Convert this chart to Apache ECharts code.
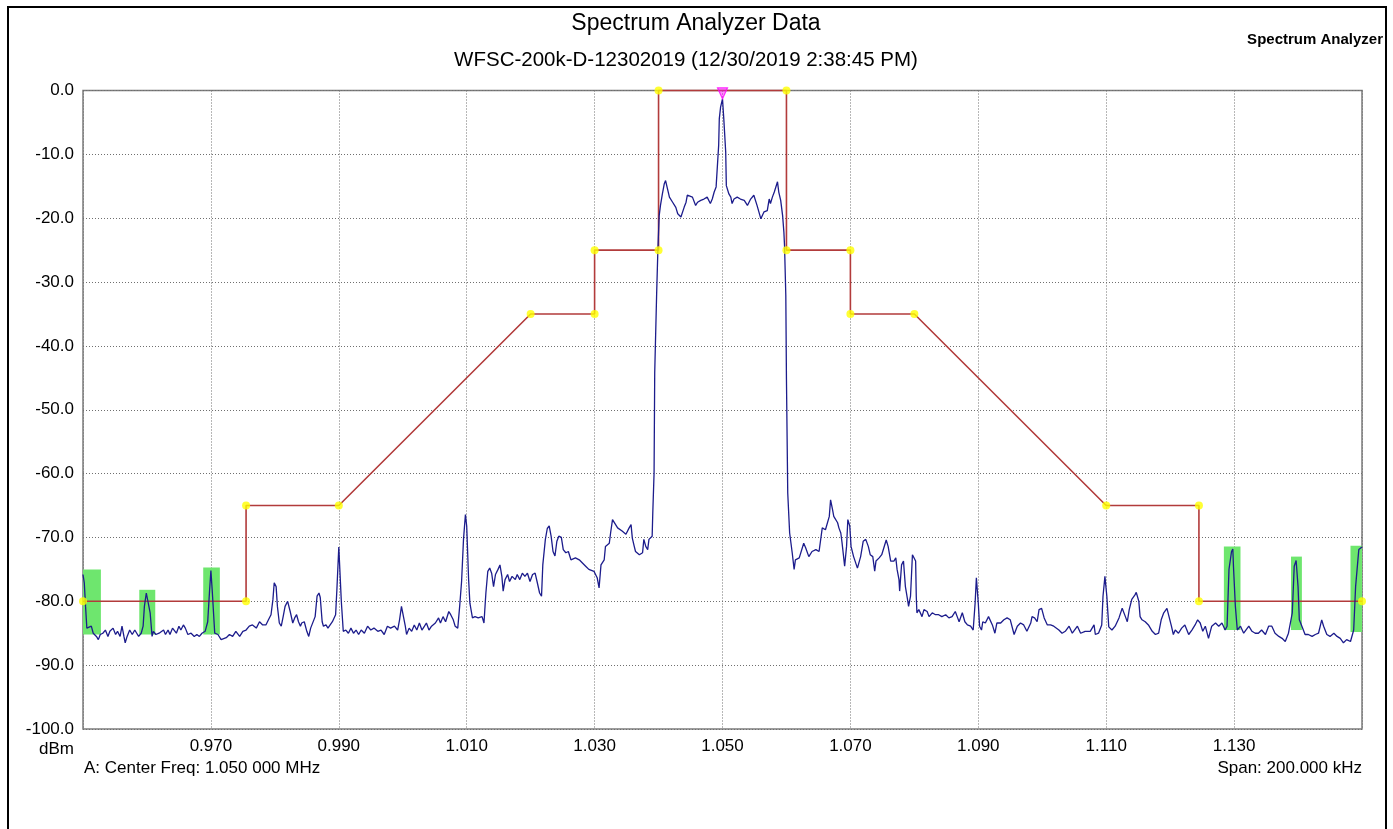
<!DOCTYPE html>
<html><head><meta charset="utf-8">
<script src="https://cdn.jsdelivr.net/npm/echarts@6/dist/echarts.min.js"></script>
<style>html,body{margin:0;padding:0;background:#fff}#c{width:1393px;height:829px}</style>
</head><body><div id="c"></div>
<script>
// ---------- data ----------
const START_MHZ = 0.950;           // left edge of the span
const SPAN_KHZ = 200;
const xTickLabels = ['', '0.970', '0.990', '1.010', '1.030', '1.050', '1.070', '1.090', '1.110', '1.130', ''];
const yTickLabels = ['0.0', '-10.0', '-20.0', '-30.0', '-40.0', '-50.0', '-60.0', '-70.0', '-80.0', '-90.0', '-100.0'];

// limit mask (MHz, dBm)
const maskMHz = [0.950, 0.9755, 0.9755, 0.990, 1.020, 1.030, 1.030, 1.040, 1.040, 1.060, 1.060, 1.070, 1.070, 1.080, 1.110, 1.1245, 1.1245, 1.150];
const maskDbm = [-80, -80, -65, -65, -35, -35, -25, -25, 0, 0, -25, -25, -35, -35, -65, -65, -80, -80];

// violation flags (green)
const flagStartMHz = [0.9500, 0.9588, 0.9688, 1.1284, 1.1389, 1.1482];
const flagEndMHz   = [0.9528, 0.9613, 0.9714, 1.1310, 1.1406, 1.1500];
const flagTopDbm   = [-75.0, -78.2, -74.7, -71.4, -73.0, -71.3];
const flagBotDbm   = [-85.2, -85.2, -85.2, -84.5, -84.5, -84.8];

// peak marker
const markerMHz = 1.050;
const markerDbm = -1.3;

// measured trace (MHz, dBm)
const traceLow = [
[0.9500,-75.8],[0.9502,-77.1],[0.9504,-80.8],[0.9506,-84.2],[0.9509,-84.5],[0.9513,-83.9],[0.9516,-85.0],[0.9521,-85.5],
[0.9524,-86.0],[0.9527,-85.2],[0.9531,-85.0],[0.9535,-84.5],[0.9539,-85.5],[0.9542,-84.7],[0.9547,-84.2],[0.9551,-85.2],
[0.9554,-84.7],[0.9558,-85.5],[0.9561,-83.9],[0.9564,-85.5],[0.9566,-86.5],[0.9569,-85.5],[0.9573,-84.5],[0.9577,-85.2],
[0.9581,-84.5],[0.9584,-85.0],[0.9587,-85.5],[0.9591,-85.0],[0.9594,-83.9],[0.9596,-80.8],[0.9599,-78.7],[0.9602,-78.7],
[0.9605,-81.8],[0.9608,-85.5],[0.9610,-84.7],[0.9614,-85.2],[0.9619,-85.0],[0.9622,-85.0],[0.9626,-84.5],[0.9629,-85.2],
[0.9633,-84.5],[0.9636,-85.2],[0.9640,-84.2],[0.9646,-85.0],[0.9650,-83.9],[0.9653,-84.5],[0.9657,-83.7],[0.9660,-84.2],
[0.9664,-85.2],[0.9669,-85.0],[0.9674,-85.5],[0.9678,-85.2],[0.9682,-85.5],[0.9686,-85.0],[0.9691,-84.7],[0.9695,-83.2],
[0.9698,-78.2],[0.9700,-75.2],[0.9702,-78.2],[0.9706,-85.0],[0.9711,-85.2],[0.9716,-86.0],[0.9724,-85.7],[0.9729,-85.2],
[0.9734,-85.5],[0.9739,-84.7],[0.9745,-85.5],[0.9750,-84.7],[0.9755,-84.5],[0.9760,-83.9],[0.9765,-83.7],[0.9771,-84.2],
[0.9776,-83.2],[0.9781,-83.7],[0.9786,-83.7],[0.9790,-82.9],[0.9794,-82.1],[0.9797,-79.7],[0.9799,-77.1],[0.9802,-77.7],
[0.9804,-80.8],[0.9807,-83.4],[0.9810,-83.9],[0.9813,-82.4],[0.9816,-80.8],[0.9820,-80.0],[0.9824,-81.6],[0.9828,-83.4],
[0.9831,-82.6],[0.9834,-82.1],[0.9837,-83.2],[0.9840,-83.9],[0.9842,-83.4],[0.9846,-83.2],[0.9850,-84.7],[0.9853,-85.5],
[0.9856,-84.2],[0.9859,-84.2],[0.9863,-82.4],[0.9866,-79.2],[0.9869,-78.7],[0.9871,-79.4],[0.9874,-83.2],[0.9876,-83.9],
[0.9880,-83.7],[0.9883,-84.2],[0.9886,-83.9],[0.9890,-83.2],[0.9895,-82.1],[0.9897,-78.2],[0.9900,-71.5],[0.9904,-80.1],
[0.9907,-84.7],[0.9911,-84.5],[0.9915,-85.0],[0.9919,-84.2],[0.9923,-85.0],[0.9927,-84.5],[0.9931,-85.2],[0.9935,-84.5],
[0.9940,-85.0],[0.9945,-83.9],[0.9950,-84.5],[0.9955,-84.2],[0.9961,-84.7],[0.9966,-84.5],[0.9971,-85.2],[0.9976,-83.9],
[0.9981,-84.2],[0.9987,-83.9],[0.9992,-84.5],[0.9995,-82.9],[0.9998,-80.8],[1.0001,-81.1],[1.0004,-83.9],[1.0006,-85.2],
[1.0010,-84.2],[1.0014,-84.7],[1.0018,-83.7],[1.0022,-84.5],[1.0026,-83.4],[1.0030,-84.5],[1.0034,-83.9],[1.0037,-83.4],
[1.0041,-84.5],[1.0045,-83.9],[1.0051,-83.4],[1.0056,-82.6],[1.0059,-83.4],[1.0063,-82.4],[1.0067,-83.2],[1.0072,-81.6],
[1.0075,-82.1],[1.0079,-82.9],[1.0082,-83.9],[1.0086,-84.2],[1.0089,-80.8],[1.0092,-76.9],[1.0095,-70.3],[1.0098,-66.4],
[1.0100,-68.2],[1.0103,-76.6],[1.0105,-80.3],[1.0109,-82.6],[1.0113,-82.4],[1.0118,-82.6],[1.0124,-82.4],[1.0127,-83.4]
];
const traceMid = [
[1.0130,-78.7],[1.0133,-75.3],[1.0136,-74.8],[1.0139,-75.6],[1.0142,-77.7],[1.0145,-75.8],[1.0149,-75.0],[1.0152,-74.3],
[1.0155,-76.1],[1.0157,-78.4],[1.0160,-76.6],[1.0164,-75.8],[1.0167,-76.9],[1.0171,-76.1],[1.0176,-76.6],[1.0179,-75.8],
[1.0183,-76.6],[1.0187,-75.6],[1.0191,-76.1],[1.0195,-75.6],[1.0199,-76.9],[1.0203,-75.8],[1.0207,-75.6],[1.0210,-76.9],
[1.0214,-78.7],[1.0217,-79.2],[1.0219,-74.3],[1.0223,-70.3],[1.0226,-68.6],[1.0229,-68.2],[1.0232,-69.8],[1.0235,-72.2],
[1.0238,-72.9],[1.0241,-70.6],[1.0244,-69.8],[1.0248,-70.0],[1.0251,-71.9],[1.0255,-72.4],[1.0259,-72.2],[1.0263,-73.5],
[1.0266,-73.5],[1.0270,-73.2],[1.0276,-73.5],[1.0281,-74.0],[1.0286,-74.5],[1.0291,-75.0],[1.0299,-75.3],[1.0304,-76.3],
[1.0307,-77.9],[1.0310,-74.3],[1.0315,-73.5],[1.0317,-71.4],[1.0323,-70.9],[1.0325,-69.3],[1.0328,-67.2],[1.0330,-66.9],
[1.0336,-68.5],[1.0343,-69.0],[1.0349,-69.5],[1.0354,-68.5],[1.0357,-68.0],[1.0359,-70.1],[1.0362,-71.4],[1.0364,-72.2],
[1.0370,-72.7],[1.0375,-72.4],[1.0377,-70.3],[1.0380,-71.4],[1.0383,-71.9],[1.0385,-70.3],[1.0390,-69.8],[1.0391,-66.1],
[1.0393,-59.9],[1.0394,-44.2],[1.0397,-31.9],[1.0399,-24.8],[1.0401,-19.6],[1.0403,-18.0],[1.0406,-16.2],[1.0409,-14.6],
[1.0411,-14.1],[1.0414,-15.4],[1.0417,-16.7],[1.0419,-16.4],[1.0422,-17.5],[1.0424,-17.7],[1.0427,-18.3],[1.0430,-19.3],
[1.0432,-19.6],[1.0435,-19.8],[1.0437,-20.1],[1.0440,-18.3],[1.0443,-17.5],[1.0445,-16.4],[1.0448,-16.2],[1.0453,-16.7],
[1.0458,-18.0],[1.0461,-17.5],[1.0466,-17.2],[1.0471,-17.0],[1.0476,-16.7],[1.0481,-17.7],[1.0484,-17.0],[1.0487,-15.9],
[1.0490,-15.1],[1.0494,-8.6],[1.0495,-4.4],[1.0497,-2.6],[1.0500,-1.3],[1.0502,-4.4],[1.0505,-9.6],[1.0506,-14.9],
[1.0510,-16.2],[1.0513,-16.7],[1.0515,-17.7],[1.0518,-17.0],[1.0523,-16.7],[1.0528,-17.0],[1.0534,-17.2],[1.0539,-18.0],
[1.0544,-17.0],[1.0549,-16.4],[1.0554,-18.0],[1.0560,-20.1],[1.0562,-20.1],[1.0565,-19.0],[1.0570,-18.8],[1.0573,-17.0],
[1.0575,-17.7],[1.0578,-16.7],[1.0581,-15.9],[1.0586,-14.3],[1.0588,-15.9],[1.0591,-17.2],[1.0594,-19.6],[1.0596,-22.2],
[1.0597,-24.3],[1.0599,-32.1],[1.0600,-45.2],[1.0602,-63.0],[1.0605,-69.3],[1.0609,-72.4],[1.0612,-75.0],[1.0614,-73.5],
[1.0620,-73.2],[1.0623,-73.0],[1.0627,-70.9],[1.0630,-71.6],[1.0635,-73.0],[1.0640,-72.2],[1.0646,-71.9],[1.0651,-72.2],
[1.0656,-68.5],[1.0661,-68.8],[1.0667,-66.7],[1.0669,-64.1],[1.0672,-65.6],[1.0674,-66.7],[1.0680,-67.7],[1.0682,-68.5],
[1.0685,-69.3],[1.0687,-70.9],[1.0691,-74.5],[1.0694,-71.4],[1.0696,-67.2],[1.0699,-68.2],[1.0701,-71.4],[1.0705,-73.0],
[1.0711,-74.8],[1.0716,-73.0],[1.0720,-70.6],[1.0724,-70.3],[1.0728,-71.4],[1.0731,-72.7],[1.0735,-73.0],[1.0738,-75.3],
[1.0740,-73.7],[1.0745,-73.2],[1.0749,-72.7],[1.0752,-72.4],[1.0756,-70.4],[1.0759,-71.4],[1.0763,-73.7],[1.0765,-74.0],
[1.0768,-73.7],[1.0771,-73.2],[1.0773,-75.0],[1.0776,-76.6],[1.0777,-78.4],[1.0780,-74.3],[1.0783,-73.7],[1.0786,-77.7],
[1.0789,-79.5],[1.0791,-80.8],[1.0794,-79.2],[1.0797,-72.7],[1.0799,-72.4],[1.0802,-73.7],[1.0803,-79.2],[1.0804,-81.8]
];
const traceHigh = [
[1.0807,-81.3],[1.0810,-81.1],[1.0812,-82.4],[1.0815,-81.3],[1.0817,-81.1],[1.0820,-81.6],[1.0823,-82.4],[1.0828,-81.8],
[1.0833,-82.1],[1.0838,-82.1],[1.0843,-82.4],[1.0849,-82.1],[1.0854,-82.6],[1.0859,-82.4],[1.0864,-81.6],[1.0867,-82.4],
[1.0870,-83.2],[1.0875,-81.8],[1.0879,-83.2],[1.0883,-83.7],[1.0888,-83.9],[1.0892,-84.5],[1.0895,-80.3],[1.0897,-76.3],
[1.0900,-80.3],[1.0902,-83.9],[1.0905,-84.5],[1.0907,-83.2],[1.0911,-83.4],[1.0916,-82.4],[1.0922,-83.7],[1.0926,-85.0],
[1.0929,-83.4],[1.0935,-83.4],[1.0940,-82.9],[1.0945,-82.6],[1.0950,-82.9],[1.0956,-85.2],[1.0961,-83.9],[1.0966,-83.4],
[1.0971,-83.7],[1.0976,-84.7],[1.0982,-83.4],[1.0984,-82.4],[1.0988,-82.6],[1.0992,-83.2],[1.0995,-81.3],[1.0999,-81.1],
[1.1003,-82.6],[1.1008,-83.7],[1.1013,-83.7],[1.1018,-83.9],[1.1026,-84.5],[1.1031,-85.0],[1.1036,-84.7],[1.1042,-83.9],
[1.1047,-85.0],[1.1055,-83.9],[1.1060,-85.0],[1.1067,-84.7],[1.1075,-84.7],[1.1081,-83.7],[1.1083,-85.2],[1.1088,-85.0],
[1.1093,-83.7],[1.1095,-79.2],[1.1098,-76.1],[1.1101,-79.2],[1.1104,-84.0],[1.1109,-84.5],[1.1114,-83.9],[1.1120,-82.6],
[1.1125,-81.1],[1.1127,-81.3],[1.1130,-82.4],[1.1133,-83.2],[1.1136,-81.3],[1.1140,-79.7],[1.1145,-79.0],[1.1147,-78.6],
[1.1151,-80.0],[1.1153,-82.4],[1.1156,-82.9],[1.1161,-83.2],[1.1166,-83.7],[1.1172,-84.7],[1.1177,-85.2],[1.1182,-85.0],
[1.1186,-82.9],[1.1190,-81.8],[1.1195,-81.1],[1.1198,-81.3],[1.1202,-83.9],[1.1205,-85.2],[1.1208,-84.5],[1.1213,-85.0],
[1.1218,-84.2],[1.1223,-83.7],[1.1229,-85.2],[1.1234,-84.5],[1.1239,-83.7],[1.1243,-82.9],[1.1247,-83.4],[1.1251,-84.7],
[1.1255,-83.9],[1.1260,-85.8],[1.1265,-83.9],[1.1271,-83.4],[1.1276,-83.9],[1.1281,-83.4],[1.1286,-84.5],[1.1289,-83.9],
[1.1292,-75.0],[1.1296,-72.2],[1.1298,-71.8],[1.1299,-74.5],[1.1302,-80.8],[1.1305,-84.5],[1.1310,-83.9],[1.1315,-85.0],
[1.1323,-83.9],[1.1328,-84.7],[1.1333,-85.0],[1.1338,-85.0],[1.1343,-84.5],[1.1349,-85.2],[1.1354,-83.9],[1.1359,-83.9],
[1.1364,-85.0],[1.1370,-85.5],[1.1375,-85.8],[1.1380,-86.3],[1.1385,-85.0],[1.1391,-81.8],[1.1394,-74.5],[1.1397,-73.6],
[1.1400,-77.7],[1.1402,-82.9],[1.1406,-83.9],[1.1411,-85.2],[1.1416,-85.2],[1.1422,-85.5],[1.1427,-85.2],[1.1432,-85.0],
[1.1437,-82.9],[1.1440,-83.9],[1.1445,-85.2],[1.1450,-85.5],[1.1456,-85.0],[1.1461,-85.5],[1.1466,-85.8],[1.1471,-86.5],
[1.1476,-86.0],[1.1482,-86.3],[1.1487,-84.5],[1.1490,-77.7],[1.1495,-71.9],[1.1500,-71.5]
];

// ---------- build ----------
const FONT = "'Liberation Sans', Arial, sans-serif";
const toK = f => Math.round((f - START_MHZ) * 100000) / 100; // kHz offset from left edge
const traceData = traceLow.concat(traceMid, traceHigh).map(p => [toK(p[0]), p[1]]);
const maskData = maskMHz.map((f, i) => [toK(f), maskDbm[i]]);
const flagData = flagStartMHz.map((f, i) => [toK(f), toK(flagEndMHz[i]), flagTopDbm[i], flagBotDbm[i]]);

const chart = echarts.init(document.getElementById('c'), null, {renderer: 'canvas'});
const txt = (text, x, y, size, align, weight) => ({
  type: 'text', x: x, y: y, silent: true, z: 100,
  style: {text: text, fill: '#000', font: (weight || 'normal') + ' ' + size + 'px ' + FONT,
          align: align, textAlign: align, verticalAlign: 'middle', textVerticalAlign: 'middle'}
});
const gridLine = {color: '#6f6f6f', type: [1, 2], width: 1};

chart.setOption({
  animation: false,
  backgroundColor: '#ffffff',
  grid: {left: 83, right: 31, top: 90.5, bottom: 100, show: true, borderColor: '#7c7c7c', borderWidth: 1.5, backgroundColor: 'transparent'},
  xAxis: {
    type: 'value', min: 0, max: SPAN_KHZ, interval: 20,
    axisLine: {show: false}, axisTick: {show: false},
    splitLine: {show: true, lineStyle: gridLine},
    axisLabel: {formatter: v => xTickLabels[Math.round(v / 20)] || '', fontSize: 17, color: '#000', fontFamily: FONT, margin: 9}
  },
  yAxis: {
    type: 'value', min: -100, max: 0, interval: 10,
    axisLine: {show: false}, axisTick: {show: false},
    splitLine: {show: true, lineStyle: gridLine},
    axisLabel: {formatter: v => yTickLabels[Math.round(-v / 10)], fontSize: 17, color: '#000', fontFamily: FONT, margin: 9}
  },
  series: [
    {
      type: 'custom', z: 1, silent: true, data: flagData,
      encode: {x: [0, 1], y: [2, 3]},
      renderItem: (params, api) => {
        const p0 = api.coord([api.value(0), api.value(2)]);
        const p1 = api.coord([api.value(1), api.value(3)]);
        return {type: 'rect', shape: {x: p0[0], y: p0[1], width: p1[0] - p0[0], height: p1[1] - p0[1]},
                style: {fill: '#6ee66e'}};
      }
    },
    {
      type: 'line', z: 3, data: maskData, symbol: 'none', clip: false, silent: true,
      lineStyle: {color: '#b23b3b', width: 1.6}
    },
    {
      type: 'line', z: 4, data: traceData, symbol: 'none', silent: true,
      lineStyle: {color: '#1c1c8c', width: 1.3}
    },
    {
      type: 'scatter', z: 6, data: maskData, symbol: 'circle', symbolSize: 8, clip: false, silent: true,
      itemStyle: {color: '#ffff00', borderWidth: 0}
    },
    {
      type: 'scatter', z: 7, data: [[toK(markerMHz), markerDbm]], silent: true, clip: false,
      symbol: 'path://M0,0 L10,0 L5,12 Z', symbolSize: [10, 11], symbolOffset: [0, '-50%'],
      itemStyle: {color: 'rgba(255,0,255,0.55)', borderColor: '#ff00ff', borderWidth: 1.2}
    }
  ],
  graphic: [
    {type: 'rect', silent: true, z: 99, shape: {x: 8, y: 7, width: 1378, height: 860},
     style: {fill: 'none', stroke: '#000', lineWidth: 2}},
    txt('Spectrum Analyzer Data', 696, 24, 23, 'center'),
    txt('WFSC-200k-D-12302019 (12/30/2019 2:38:45 PM)', 686, 60, 20.5, 'center'),
    txt('Spectrum Analyzer', 1383, 40, 15, 'right', 'bold'),
    txt('dBm', 74, 749, 17, 'right'),
    txt('A: Center Freq: 1.050 000 MHz', 84, 768, 17, 'left'),
    txt('Span: 200.000 kHz', 1362, 768, 17, 'right')
  ]
});
</script>
</body></html>
